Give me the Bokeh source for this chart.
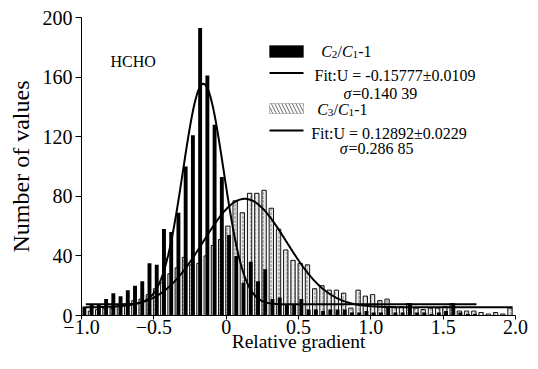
import numpy as np
from bokeh.plotting import figure
from bokeh.models import FixedTicker, Label, BoxAnnotation
from bokeh.embed import file_html
from bokeh.resources import INLINE

FONT = "Liberation Serif"

# ---- data -----------------------------------------------------------------
# C2/C1-1 histogram (black bars): bin centres and counts
c2_x = [-0.98, -0.93, -0.88, -0.83, -0.78, -0.73, -0.68, -0.63, -0.58, -0.53,
        -0.48, -0.43, -0.38, -0.33, -0.28, -0.23, -0.18, -0.13, -0.08, -0.03,
        0.02, 0.07, 0.12, 0.17, 0.22, 0.27, 0.32, 0.37, 0.42, 0.47,
        0.52, 0.57, 0.62, 0.67, 0.72, 0.77, 0.82, 0.87, 0.92, 0.97,
        1.02, 1.07, 1.12, 1.17, 1.22, 1.27, 1.32, 1.37, 1.42, 1.47,
        1.52, 1.57, 1.62, 1.67, 1.72]
c2_n = [6, 7, 7, 11, 15, 13, 17, 20, 23, 35,
        34, 58, 56, 69, 100, 121, 193, 161, 128, 93,
        54, 40, 22, 36, 23, 31, 11, 12, 7, 7,
        11, 4, 4, 3, 4, 4, 4, 2, 2, 3,
        2, 2, 5, 2, 2, 8, 2, 2, 1, 2,
        3, 8, 2, 1, 1]

# C3/C1-1 histogram (hatched bars): bin centres and counts
c3_x = [-0.938, -0.888, -0.838, -0.788, -0.738, -0.688, -0.638, -0.588, -0.538, -0.488,
        -0.438, -0.388, -0.338, -0.288, -0.238, -0.188, -0.138, -0.088, -0.038, 0.012,
        0.062, 0.112, 0.162, 0.212, 0.262, 0.312, 0.362, 0.412, 0.462, 0.512,
        0.562, 0.612, 0.662, 0.712, 0.762, 0.812, 0.862, 0.912, 0.962, 1.012,
        1.062, 1.112, 1.162, 1.212, 1.262, 1.312, 1.362, 1.412, 1.462, 1.512,
        1.562, 1.612, 1.662, 1.712, 1.762, 1.812, 1.862, 1.912, 1.962]
c3_n = [3, 4, 5, 5, 7, 8, 10, 11, 14, 18,
        22, 28, 32, 39, 34, 35, 40, 47, 51, 60,
        77, 69, 82, 82, 84, 72, 58, 44, 37, 35,
        34, 18, 20, 17, 17, 15, 5, 17, 13, 14,
        10, 11, 6, 6, 8, 5, 4, 5, 5, 6,
        8, 3, 3, 3, 2, 1, 2, 1, 5]

fit_c2 = dict(U=-0.15777, sigma=0.14039, amp=148.0, base=7.5, x0=-0.97, x1=1.73)
fit_c3 = dict(U=0.12892, sigma=0.28685, amp=72.8, base=5.5, x0=-0.97, x1=1.98)

x_ticks = [-1.0, -0.5, 0.0, 0.5, 1.0, 1.5, 2.0]
x_tick_labels = ["\u22121.0", "\u22120.5", "0", "0.5", "1.0", "1.5", "2.0"]
y_ticks = [0, 40, 80, 120, 160, 200]

# ---- figure -----------------------------------------------------------------
p = figure(width=536, height=367, x_range=(-1.0, 2.0), y_range=(0, 200),
           output_backend="svg", toolbar_location=None,
           min_border_left=81, min_border_right=21, min_border_top=17,
           min_border_bottom=52)
p.outline_line_color = None
p.grid.visible = False
p.background_fill_color = "white"
p.border_fill_color = "white"

p.vbar(x=c3_x, top=c3_n, width=0.03, bottom=0,
       fill_color="#ebebeb", line_color="#111111", line_width=1.0,
       hatch_pattern="vertical_dash", hatch_color="#666666", hatch_scale=4,
       hatch_weight=0.8)
p.vbar(x=c2_x, top=c2_n, width=0.027, bottom=0,
       fill_color="black", line_color=None)

for f in (fit_c2, fit_c3):
    xs = np.linspace(f["x0"], f["x1"], 500)
    ys = f["base"] + f["amp"] * np.exp(-(xs - f["U"]) ** 2 / (2 * f["sigma"] ** 2))
    p.line(xs, ys, line_color="black", line_width=2)

# ---- axes -------------------------------------------------------------------
p.xaxis.ticker = FixedTicker(ticks=x_ticks)
p.xaxis.major_label_overrides = {t: l for t, l in zip(x_ticks, x_tick_labels)}
p.yaxis.ticker = FixedTicker(ticks=y_ticks)
p.xaxis.axis_label = "Relative gradient"
p.yaxis.axis_label = "Number of values"
for ax in (p.xaxis[0], p.yaxis[0]):
    ax.axis_line_color = "black"
    ax.axis_line_width = 1
    ax.major_tick_line_color = "black"
    ax.major_tick_in = 0
    ax.minor_tick_out = 0
    ax.minor_tick_in = 0
    ax.major_label_text_font = FONT
    ax.major_label_text_font_size = "20px"
    ax.major_label_text_color = "black"
    ax.axis_label_text_font = FONT
    ax.axis_label_text_font_style = "normal"
    ax.axis_label_text_color = "black"
p.xaxis.major_tick_out = 4
p.yaxis.major_tick_out = 6
p.xaxis.axis_label_text_font_size = "19.5px"
p.yaxis.axis_label_text_font_size = "24px"
p.xaxis.major_label_standoff = 0
p.xaxis.axis_label_standoff = -6
p.yaxis.major_label_standoff = 3
p.yaxis.axis_label_standoff = 6

# ---- legend (drawn by hand, frame-relative screen px) -------------------------
WID = {'C': 0.667, 'F': 0.556, 'U': 0.722, 'i': 0.278, 't': 0.278, ':': 0.278,
       ' ': 0.25, '=': 0.564, '\u00b1': 0.549, '-': 0.333, '.': 0.25, '/': 0.278,
       '\u03c3': 0.55}


def rich(x, yc, parts, size=16):
    cx = x
    base = yc - 0.3 * size + 4
    for txt, ital, sub in parts:
        fs = size * 0.7 if sub else size
        p.add_layout(Label(x=cx, y=base - (3 if sub else 0), x_units="screen",
                           y_units="screen", text=txt, text_font=FONT,
                           text_font_size=f"{fs:.1f}px",
                           text_font_style="italic" if ital else "normal",
                           text_color="black", text_baseline="alphabetic"))
        cx += sum(WID.get(ch, 0.5) for ch in txt) * fs


def box(l, r, b, t, **kw):
    p.add_layout(BoxAnnotation(left=l, right=r, bottom=b, top=t,
                               left_units="screen", right_units="screen",
                               bottom_units="screen", top_units="screen", **kw))


box(188, 222, 258, 270, fill_color="black", fill_alpha=1, line_color="black")
box(188, 222, 241.5, 243.5, fill_color="black", fill_alpha=1, line_color=None)
box(188, 222, 202, 212, fill_color="white", fill_alpha=1, line_color="#444444",
    line_width=1, hatch_pattern="left_diagonal_line", hatch_color="#666666",
    hatch_scale=7, hatch_weight=1)
box(188, 222, 184, 186, fill_color="black", fill_alpha=1, line_color=None)

rich(239.7, 265, [("C", True, False), ("2", False, True), ("/", False, False),
                  ("C", True, False), ("1", False, True), ("-1", False, False)])
rich(233, 241, [("Fit:U = -0.15777\u00b10.0109", False, False)])
rich(262, 223, [("\u03c3", True, False), ("=0.140 39", False, False)])
rich(235.7, 206.5, [("C", True, False), ("3", False, True), ("/", False, False),
                    ("C", True, False), ("1", False, True), ("-1", False, False)])
rich(229.7, 183.3, [("Fit:U = 0.12892\u00b10.0229", False, False)])
rich(258.3, 168.3, [("\u03c3", True, False), ("=0.286 85", False, False)])
rich(29, 255, [("HCHO", False, False)])

open("out.html", "w").write(file_html(p, INLINE))
